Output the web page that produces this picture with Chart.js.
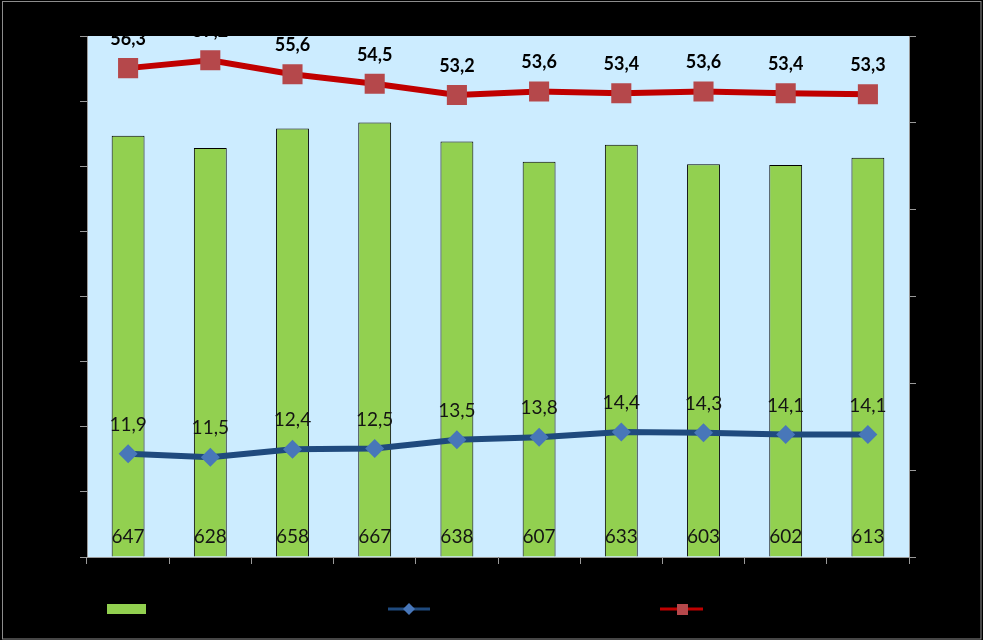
<!DOCTYPE html>
<html>
<head>
<meta charset="utf-8">
<script src="https://cdn.jsdelivr.net/npm/chart.js@4/dist/chart.umd.min.js"></script>
<style>
  html, body { margin: 0; padding: 0; background: #000; }
  canvas { display: block; }
</style>
</head>
<body>
<canvas id="c" width="983" height="640"></canvas>
<script>
// ---- data ----
const categories = ['1', '2', '3', '4', '5', '6', '7', '8', '9', '10'];
const barValues  = [647, 628, 658, 667, 638, 607, 633, 603, 602, 613];
const blueValues = [11.9, 11.5, 12.4, 12.5, 13.5, 13.8, 14.4, 14.3, 14.1, 14.1];
const redValues  = [56.3, 57.2, 55.6, 54.5, 53.2, 53.6, 53.4, 53.6, 53.4, 53.3];
const leftTicks  = { min: 0, max: 800, step: 100 };
const rightTicks = { min: 0, max: 60, step: 10 };

const fmt = v => String(v).replace('.', ',');
const FONT = 'Lato, "Liberation Sans", sans-serif';
const AXIS = '#9a9a9a';

const bgPlugin = {
  id: 'bg',
  beforeDraw(chart) {
    const { ctx, chartArea: a, width, height } = chart;
    ctx.save();
    ctx.fillStyle = '#000';
    ctx.fillRect(0, 0, width, height);
    ctx.strokeStyle = '#8c8c8c';
    ctx.lineWidth = 1;
    ctx.strokeRect(2.5, 1.5, width - 4.5, height - 2.5);
    ctx.fillStyle = '#CCECFF';
    ctx.fillRect(a.left, a.top, a.right - a.left, a.bottom - a.top);
    ctx.restore();
  }
};

const labelPlugin = {
  id: 'labels',
  afterDatasetsDraw(chart) {
    const { ctx } = chart;
    ctx.save();
    ctx.textAlign = 'center';
    ctx.textBaseline = 'middle';
    // bar labels
    const mb = chart.getDatasetMeta(0);
    const y0 = chart.scales.y.getPixelForValue(0);
    ctx.font = '19px ' + FONT;
    ctx.fillStyle = '#141414';
    mb.data.forEach((el, i) => ctx.fillText(fmt(barValues[i]), el.x, y0 - 20));
    // blue labels
    const m1 = chart.getDatasetMeta(1);
    ctx.font = '19px ' + FONT;
    ctx.fillStyle = '#141414';
    m1.data.forEach((el, i) => ctx.fillText(fmt(blueValues[i]), el.x, el.y - 29));
    // red labels
    const m2 = chart.getDatasetMeta(2);
    ctx.font = 'bold 18px ' + FONT;
    ctx.fillStyle = '#000';
    m2.data.forEach((el, i) => ctx.fillText(fmt(redValues[i]), el.x, el.y - 29));
    ctx.restore();
  }
};

const legendPlugin = {
  id: 'customLegend',
  afterDraw(chart) {
    const { ctx } = chart;
    const ds = chart.data.datasets;
    const y = 609;
    ctx.save();
    // bar swatch
    ctx.fillStyle = ds[0].backgroundColor;
    ctx.fillRect(107, 604, 39, 10);
    // blue line + diamond
    ctx.strokeStyle = ds[1].borderColor;
    ctx.lineWidth = 3;
    ctx.beginPath(); ctx.moveTo(388, y); ctx.lineTo(430, y); ctx.stroke();
    ctx.fillStyle = ds[1].pointBackgroundColor;
    ctx.beginPath();
    ctx.moveTo(409 - 6, y); ctx.lineTo(409, y - 6); ctx.lineTo(409 + 6, y); ctx.lineTo(409, y + 6);
    ctx.closePath(); ctx.fill();
    // red line + square
    ctx.strokeStyle = ds[2].borderColor;
    ctx.beginPath(); ctx.moveTo(660, y); ctx.lineTo(703, y); ctx.stroke();
    ctx.fillStyle = ds[2].pointBackgroundColor;
    ctx.fillRect(677, y - 5, 11, 11);
    ctx.restore();
  }
};

new Chart(document.getElementById('c'), {
  data: {
    labels: categories,
    datasets: [
      {
        type: 'bar',
        label: 'bars',
        data: barValues,
        yAxisID: 'y',
        backgroundColor: '#92D050',
        borderColor: '#000',
        borderWidth: 1,
        borderSkipped: 'bottom',
        categoryPercentage: 1,
        barPercentage: 0.40,
        order: 3
      },
      {
        type: 'line',
        label: 'blue',
        data: blueValues,
        yAxisID: 'y1',
        borderColor: '#1F4A7E',
        borderWidth: 6,
        tension: 0,
        pointStyle: 'rectRot',
        pointRadius: 9.5,
        pointBackgroundColor: '#4877B9',
        pointBorderColor: '#4877B9',
        pointBorderWidth: 0,
        order: 2
      },
      {
        type: 'line',
        label: 'red',
        data: redValues,
        yAxisID: 'y1',
        borderColor: '#C00000',
        borderWidth: 6,
        tension: 0,
        pointStyle: 'rect',
        pointRadius: 14.2,
        pointBackgroundColor: '#B5484B',
        pointBorderColor: '#B5484B',
        pointBorderWidth: 0,
        order: 1
      }
    ]
  },
  options: {
    responsive: false,
    devicePixelRatio: 1,
    animation: false,
    events: [],
    layout: { padding: { top: 36, left: 0, right: 0, bottom: 0 } },
    plugins: { legend: { display: false }, tooltip: { enabled: false } },
    scales: {
      x: {
        type: 'category',
        offset: true,
        grid: { offset: true, drawOnChartArea: false, color: AXIS, tickLength: 7 },
        border: { color: AXIS, width: 1 },
        ticks: { display: false },
        afterFit(s) { s.height = 83; }
      },
      y: {
        position: 'left',
        min: leftTicks.min, max: leftTicks.max,
        ticks: { display: false, stepSize: leftTicks.step },
        grid: { drawOnChartArea: false, color: AXIS, tickLength: 7 },
        border: { color: AXIS, width: 1 },
        afterFit(s) { s.width = 87; }
      },
      y1: {
        position: 'right',
        min: rightTicks.min, max: rightTicks.max,
        ticks: { display: false, stepSize: rightTicks.step },
        grid: { drawOnChartArea: false, color: AXIS, tickLength: 7 },
        border: { color: AXIS, width: 1 },
        afterFit(s) { s.width = 74; }
      }
    }
  },
  plugins: [bgPlugin, labelPlugin, legendPlugin]
});
</script>
</body>
</html>
